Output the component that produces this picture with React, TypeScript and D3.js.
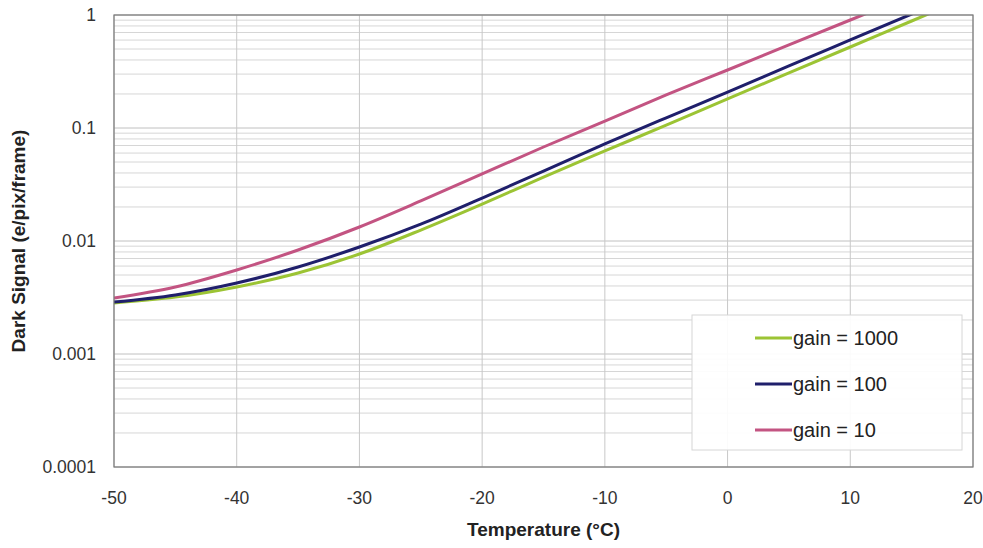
import React from "react";
import * as d3 from "d3";

// temperature (°C) and dark signal (e/pix/frame) per gain setting
const temps = [-50, -45, -40, -35, -30, -25, -20, -15, -10, -5, 0, 5, 10, 15, 20];
const gain1000 = [0.00283, 0.00319, 0.00392, 0.00521, 0.00767, 0.0125, 0.0212, 0.0368, 0.0626, 0.106, 0.181, 0.307, 0.521, 0.885, 1.5];
const gain100 = [0.00288, 0.00333, 0.00425, 0.00589, 0.00885, 0.0141, 0.024, 0.0416, 0.0722, 0.123, 0.208, 0.354, 0.601, 1.02, 1.73];
const gain10 = [0.00313, 0.00392, 0.00554, 0.00832, 0.0133, 0.0226, 0.0392, 0.0679, 0.115, 0.196, 0.326, 0.543, 0.903, 1.5, 2.5];

const xTicks = [-50, -40, -30, -20, -10, 0, 10, 20];
const yTicks = [0.0001, 0.001, 0.01, 0.1, 1];
const yTickLabels = ["0.0001", "0.001", "0.01", "0.1", "1"];

const series = [
  { name: "gain = 1000", values: gain1000, color: "#9cc434" },
  { name: "gain = 100", values: gain100, color: "#1f1f6b" },
  { name: "gain = 10", values: gain10, color: "#c35482" },
];

const width = 983;
const height = 548;
const margin = { top: 15, right: 10, bottom: 81, left: 114 };

export default function App() {
  const innerW = width - margin.left - margin.right;
  const innerH = height - margin.top - margin.bottom;

  const x = d3.scaleLinear().domain([-50, 20]).range([0, innerW]);
  const y = d3.scaleLog().domain([0.0001, 1]).range([innerH, 0]);

  // minor grid lines 2..9 in every decade
  const minor: number[] = [];
  for (let e = -4; e < 0; e++) {
    for (let m = 2; m <= 9; m++) minor.push(m * Math.pow(10, e));
  }

  const line = d3
    .line<number>()
    .x((d, i) => x(temps[i]))
    .y(d => y(d))
    .curve(d3.curveMonotoneX);

  const font = "'Liberation Sans', Arial, sans-serif";

  return (
    <svg width={width} height={height} style={{ position: "absolute", left: 0, top: 0, background: "#fff" }}>
      <defs>
        <clipPath id="plot">
          <rect x={0} y={0} width={innerW} height={innerH} />
        </clipPath>
      </defs>
      <g transform={`translate(${margin.left},${margin.top})`}>
        {minor.map((v, i) => (
          <line key={"m" + i} x1={0} x2={innerW} y1={y(v)} y2={y(v)} stroke="#d6d6d6" strokeWidth={1} />
        ))}
        {yTicks.map((v, i) => (
          <line key={"y" + i} x1={0} x2={innerW} y1={y(v)} y2={y(v)} stroke="#c0c0c0" strokeWidth={1} />
        ))}
        {xTicks.map((v, i) => (
          <line key={"x" + i} x1={x(v)} x2={x(v)} y1={0} y2={innerH} stroke="#c8c8c8" strokeWidth={1} />
        ))}

        <g clipPath="url(#plot)">
          {series.map(s => (
            <path key={s.name} d={line(s.values) || ""} fill="none" stroke={s.color} strokeWidth={3} />
          ))}
        </g>

        <rect x={0} y={0} width={innerW} height={innerH} fill="none" stroke="#7a7a7a" strokeWidth={1.2} />

        {yTicks.map((v, i) => (
          <text key={"yl" + i} x={-18} y={y(v)} dy="0.35em" textAnchor="end" fontFamily={font} fontSize={17.5} fill="#333">
            {yTickLabels[i]}
          </text>
        ))}
        {xTicks.map((v, i) => (
          <text key={"xl" + i} x={x(v)} y={innerH + 37} textAnchor="middle" fontFamily={font} fontSize={17.5} fill="#333">
            {v}
          </text>
        ))}

        <text
          transform={`translate(${-89},${innerH / 2}) rotate(-90)`}
          textAnchor="middle"
          fontFamily={font}
          fontSize={19}
          fontWeight="bold"
          fill="#222"
        >
          Dark Signal (e/pix/frame)
        </text>
        <text x={x(-15)} y={innerH + 69} textAnchor="middle" fontFamily={font} fontSize={19} fontWeight="bold" fill="#222">
          Temperature (°C)
        </text>

        {/* legend */}
        <g transform={`translate(${578},${300})`}>
          <rect x={0} y={0} width={270} height={135} fill="#fff" fillOpacity={0.92} stroke="#d6d6d6" />
          {series.map((s, i) => (
            <g key={s.name} transform={`translate(0,${23 + i * 46})`}>
              <line x1={63} x2={100} y1={0} y2={0} stroke={s.color} strokeWidth={3} />
              <text x={101} y={0} dy="0.35em" fontFamily={font} fontSize={20} fill="#222">
                {s.name}
              </text>
            </g>
          ))}
        </g>
      </g>
    </svg>
  );
}
